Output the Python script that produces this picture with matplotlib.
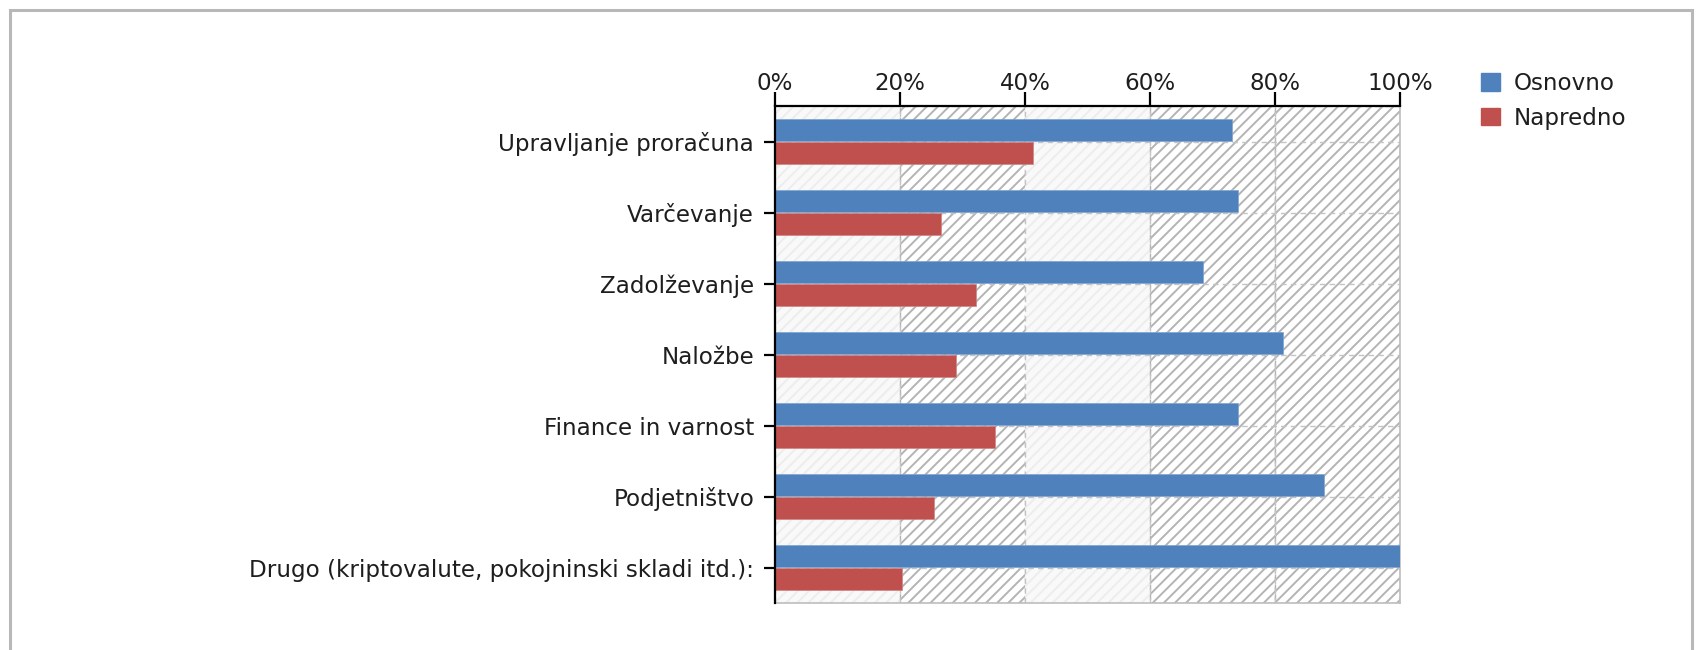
import matplotlib
matplotlib.use("Agg")
import matplotlib.pyplot as plt
from matplotlib.patches import Patch, Rectangle

categories = [
    "Upravljanje proračuna",
    "Varčevanje",
    "Zadolževanje",
    "Naložbe",
    "Finance in varnost",
    "Podjetništvo",
    "Drugo (kriptovalute, pokojninski skladi itd.):",
]
osnovno = [73.1, 74.0, 68.5, 81.3, 74.0, 87.8, 100.0]
napredno = [41.3, 26.6, 32.1, 29.0, 35.2, 25.5, 20.3]
series_names = ["Osnovno", "Napredno"]
x_ticks = [0, 20, 40, 60, 80, 100]
x_tick_labels = ["0%", "20%", "40%", "60%", "80%", "100%"]

BLUE = "#4F81BD"
RED = "#C0504D"
FS = 16.6
TXT = "#1e1e1e"

plt.rcParams["font.family"] = ["DejaVu Sans"]
plt.rcParams["hatch.linewidth"] = 1.4

W, H = 1696, 650
fig = plt.figure(figsize=(W / 100, H / 100), dpi=100)

# outer frame
fig.patches.append(Rectangle((10 / W, -0.05), (1692 - 10) / W, 1.05 - 10 / H,
                             transform=fig.transFigure, fill=False,
                             edgecolor="#B8B8B8", linewidth=2.2, zorder=0))

ax = fig.add_axes([775 / W, 1 - 603 / H, 625 / W, 497 / H])
ax.set_facecolor("white")

# background bands
bands = [(0, 20, False), (20, 40, True), (40, 60, False), (60, 80, True), (80, 100, True)]
for a, b, dark in bands:
    if dark:
        ax.axvspan(a, b, facecolor="white", edgecolor="#B4B4B4", hatch="///",
                   linewidth=1.0, linestyle=(0, (4, 3)), zorder=0.2)
    else:
        ax.axvspan(a, b, facecolor="#F9F9F9", edgecolor="#EDEDED", hatch="///",
                   linewidth=0.0, zorder=0.2)

y = list(range(len(categories)))
h = 0.31
ax.barh([v - h / 2 - 0.01 for v in y], osnovno, height=h, color=BLUE,
        edgecolor="#7FA3D0", linewidth=0.5, zorder=3, label=series_names[0])
ax.barh([v + h / 2 + 0.01 for v in y], napredno, height=h, color=RED,
        edgecolor="#D08583", linewidth=0.5, zorder=3, label=series_names[1])

ax.set_xlim(0, 100)
ax.set_ylim(len(categories) - 0.5, -0.5)
ax.set_xticks(x_ticks)
ax.set_xticklabels(x_tick_labels, fontsize=FS, color=TXT)
ax.set_yticks(y)
ax.set_yticklabels(categories, fontsize=FS, color=TXT)
ax.xaxis.tick_top()
ax.tick_params(axis="x", which="both", top=True, bottom=False, length=10,
               width=1.6, color="black", pad=-2)
ax.tick_params(axis="y", length=8, width=1.6, color="black", pad=7)

ax.set_axisbelow(True)
ax.grid(True, linestyle=(0, (4, 3)), color="#C4C4C4", linewidth=1.0, zorder=0.5)

for s in ["top", "left"]:
    ax.spines[s].set_color("black")
    ax.spines[s].set_linewidth(1.6)
    ax.spines[s].set_zorder(4)
for s in ["right", "bottom"]:
    ax.spines[s].set_color("#BDBDBD")
    ax.spines[s].set_linewidth(1.2)

handles = [Patch(facecolor=BLUE, edgecolor=BLUE), Patch(facecolor=RED, edgecolor=RED)]
fig.legend(handles, series_names, loc="upper left",
           bbox_to_anchor=(1481 / W, 1 - 72 / H), frameon=False, fontsize=FS,
           handlelength=0.82, handleheight=0.82, handletextpad=0.6,
           labelspacing=0.5, borderpad=0, borderaxespad=0, labelcolor=TXT)

fig.savefig("out.png", dpi=100)
